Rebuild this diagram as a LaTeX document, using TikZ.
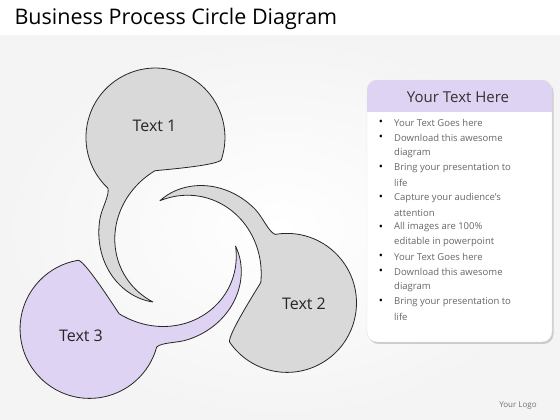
\documentclass[tikz,border=0pt]{standalone}
\usepackage{fontspec}
\setmainfont{Open Sans}
\usepackage{tikz}
\usetikzlibrary{shadows}

\definecolor{blobgray}{RGB}{217,217,217}
\definecolor{lilac}{RGB}{222,211,242}
\definecolor{bggray}{RGB}{244,244,244}

\begin{document}
\begin{tikzpicture}[x=1pt,y=1pt,
    blob/.style={draw=black!85,line width=0.8pt,line join=round},
    blobtext/.style={font=\fontsize{16}{16}\selectfont,text=black!85},
    item/.style={font=\fontsize{9.5}{11}\selectfont,text=black!60,anchor=west,inner sep=0pt}]
    \useasboundingbox (0,0) rectangle (560,420);
    \fill[white] (0,0) rectangle (560,420);
    \shade[inner color=white,outer color=bggray] (0,0) rectangle (560,384);
    \node[anchor=west,font=\fontsize{21.5}{21.5}\selectfont] (title) at (11,401) {Business Process Circle Diagram};

    % three bubbles with tails round the ring
    \coordinate (ring) at (180,167);
    \foreach \ang/\col/\tip in {102/blobgray/139,-25/blobgray/136,-140/lilac/147} {
      \pgfmathsetmacro\tipend{\tip-0.4}
      \begin{scope}[shift={(ring)},rotate=\ang]
        \draw[blob,fill=\col] (-35.9:101.8) arc[start angle=-120.8,end angle=124.8,radius=69.5]
          .. controls +(185:7) and +(339.6:10) .. (55:87)
          -- plot[domain=55:\tipend,samples=40,variable=\t] (\t:{56+31*((\tip-\t)/(\tip-55))^1.0})
          -- (\tip:56)
          -- plot[domain=\tipend:5,samples=50,variable=\t] (\t:{56+30*((\tip-\t)/(\tip-5))^1.7})
          .. controls +(265:8) and +(125:8) .. (-35.9:101.8)
          -- cycle;
      \end{scope}
    }
    \node[blobtext] (tone) at (154.5,294) {Text 1};
    \node[blobtext] (ttwo) at (304,116) {Text 2};
    \node[blobtext] (tthree) at (81,84) {Text 3};

    % text panel
    \fill[white,rounded corners=10,drop shadow={shadow xshift=1.5pt,shadow yshift=-2pt,opacity=0.35}] (367,78) rectangle (552,340);
    \begin{scope}
      \clip[rounded corners=10] (367,78) rectangle (552,340);
      \fill[lilac] (367,308) rectangle (552,340);
    \end{scope}
    \draw[black!12,rounded corners=10] (367,78) rectangle (552,340);
    \node[font=\fontsize{15}{15}\selectfont,text=black!80] (head) at (458,323) {Your Text Here};
    \foreach \b/\txt [count=\i] in {1/Your Text Goes here,1/Download this awesome,0/diagram,
        1/Bring your presentation to,0/life,1/Capture your audience's,0/attention,
        1/All images are 100\%,0/editable in powerpoint,1/Your Text Goes here,
        1/Download this awesome,0/diagram,1/Bring your presentation to,0/life} {
      \node[item] (line\i) at (394,{296.7-14.88*(\i-1)}) {\txt};
      \ifnum\b=1 \node[font=\fontsize{11}{11}\selectfont] (dot\i) at (381,{296.7-14.88*(\i-1)}) {\textbullet}; \fi
    }
    \node[font=\fontsize{8}{8}\selectfont,text=black!55] (logo) at (518,14) {Your Logo};
\end{tikzpicture}
\end{document}
